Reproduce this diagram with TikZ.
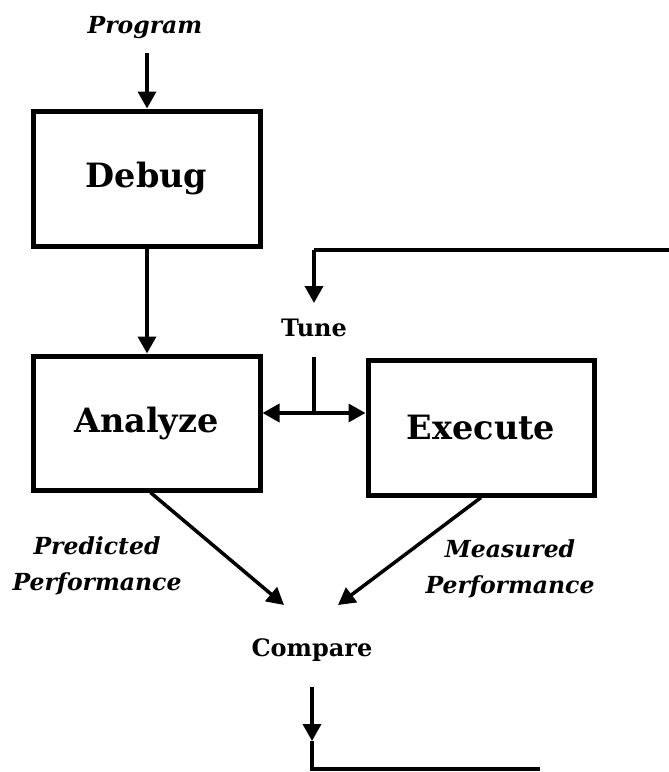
\documentclass[tikz,border=0pt]{standalone}
\usepackage{fontspec}
\setmainfont{DejaVu Serif}
\usetikzlibrary{arrows.meta}
\begin{document}
\begin{tikzpicture}[x=1pt,y=-1pt,
  stage/.style={draw, line width=5pt, minimum width=227pt, minimum height=135pt,
    inner sep=0pt, font=\fontsize{33.5}{38}\selectfont\bfseries},
  plain/.style={inner sep=0pt, font=\fontsize{24}{28}\selectfont\bfseries},
  flow/.style={inner sep=0pt, align=center, font=\fontsize{23.5}{36}\selectfont\bfseries\itshape},
  conn/.style={line width=3.5pt},
  tip/.style={conn, -{Triangle[length=17pt,width=18pt]}}]
  \useasboundingbox (0,0) rectangle (669,772);

  % boxes
  \node[stage] (debug)   at (146.5,178.5) {Debug};
  \node[stage, minimum height=134pt] (analyze) at (146.5,423) {Analyze};
  \node[stage, minimum width=226pt] (execute) at (481,427.5) {Execute};

  % labels
  \node[flow]  (program)  at (145,28)  {Program};
  \node[plain] (tune)     at (314,328) {Tune};
  \node[plain] (compare)  at (312,650) {Compare};
  \node[flow]  (predicted) at (97,566) {Predicted\\Performance};
  \node[flow]  (measured)  at (510,569) {Measured\\Performance};

  % free ends and junctions
  \coordinate (progtop) at (147,53);
  \coordinate (fbright) at (669,250);
  \coordinate (fbcorner) at (314,250);
  \coordinate (fbtip) at (314,303);
  \coordinate (tunetop) at (314,357);
  \coordinate (split) at (314,413);
  \coordinate (predtip) at (284,605);
  \coordinate (meastip) at (338,605);
  \coordinate (cmptop) at (312,687);
  \coordinate (cmptip) at (312,741);
  \coordinate (cmpcorner) at (312,769);
  \coordinate (cmpend) at (540,769);

  % connectors
  \draw[tip] (progtop) -- (progtop |- debug.north);
  \draw[tip] (debug.south -| progtop) -- (analyze.north -| progtop);
  \draw[conn] (fbright) -- (fbcorner);
  \draw[tip] (fbcorner) -- (fbtip);
  \draw[conn] (tunetop) -- (split);
  \draw[tip] (split) -- (split -| analyze.east);
  \draw[tip] (split) -- (split -| execute.west);
  \draw[tip] ([xshift=4pt]analyze.south) -- (predtip);
  \draw[tip] (execute.south) -- (meastip);
  \draw[tip] (cmptop) -- (cmptip);
  \draw[conn] (cmptip) -- (cmpcorner) -- (cmpend);
\end{tikzpicture}
\end{document}
